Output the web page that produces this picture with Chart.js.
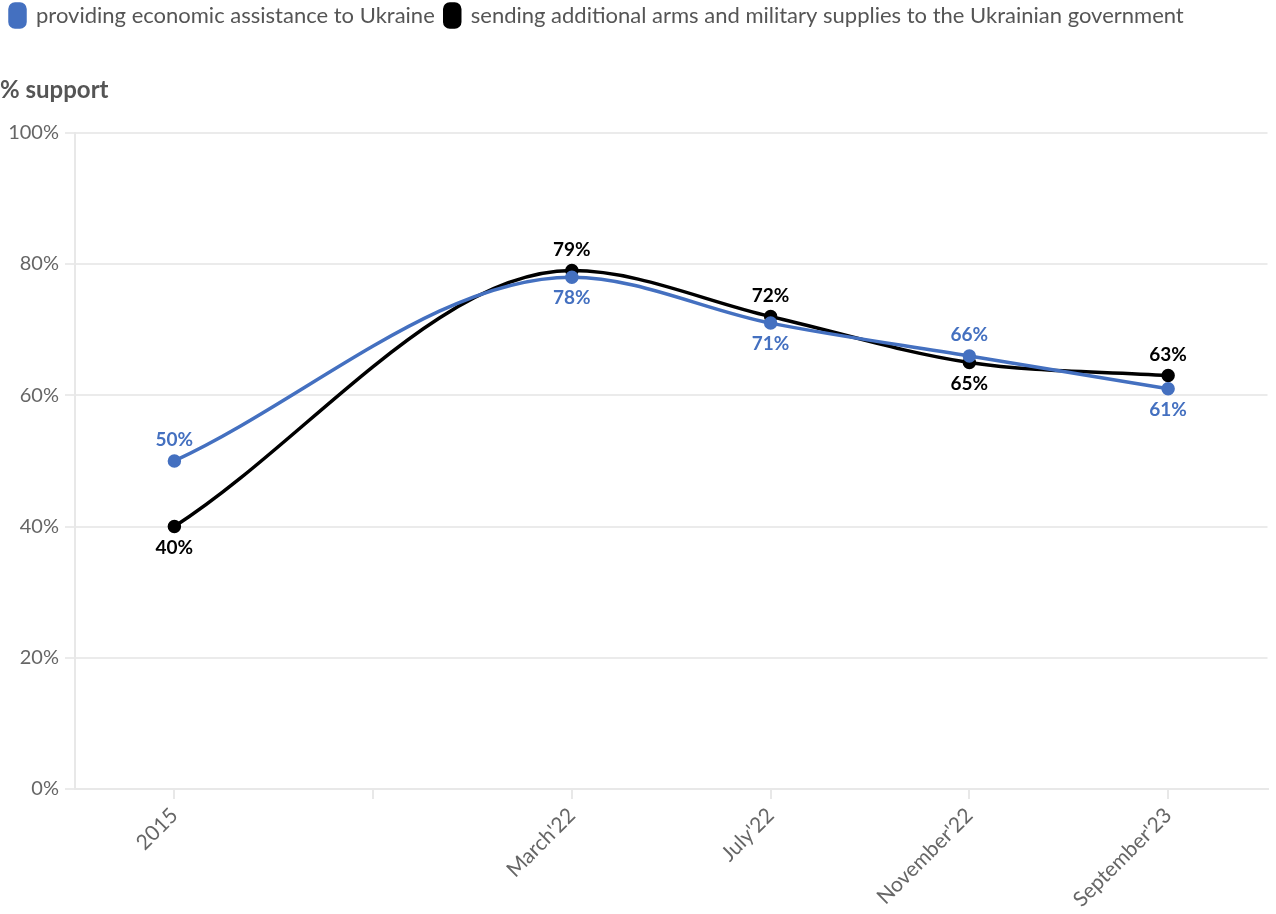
<!DOCTYPE html>
<html>
<head>
<meta charset="utf-8">
<script src="https://cdn.jsdelivr.net/npm/chart.js@4"></script>
<style>
  html, body { margin: 0; padding: 0; background: #fff; }
  #wrap { width: 1276px; height: 914px; position: relative; }
</style>
</head>
<body>
<div id="wrap"><canvas id="supportChart"></canvas></div>
<script>
const labels = ['2015', '', "March'22", "July'22", "November'22", "September'23"];
const economicAid = [50, null, 78, 71, 66, 61];
const armsSupply = [40, null, 79, 72, 65, 63];
// label side for each point: 1 = above, -1 = below
const economicLabelSide = [1, 0, -1, -1, 1, -1];
const armsLabelSide = [-1, 0, 1, 1, -1, 1];
const yTicks = [0, 20, 40, 60, 80, 100];

const FONT = "'Lato', 'Open Sans', sans-serif";
const BLUE = '#4470c0';

Chart.defaults.font.family = FONT;
Chart.defaults.color = '#666';

// draws the % labels next to each point
const pointLabels = {
    id: 'pointLabels',
    afterDatasetsDraw(chart) {
        const ctx = chart.ctx;
        ctx.save();
        ctx.font = "bold 19px " + FONT;
        ctx.textAlign = 'center';
        ctx.textBaseline = 'middle';
        chart.data.datasets.forEach((ds, di) => {
            const meta = chart.getDatasetMeta(di);
            ctx.fillStyle = ds.borderColor;
            meta.data.forEach((pt, i) => {
                const v = ds.data[i];
                if (v === null) return;
                const side = ds.labelSide[i];
                ctx.fillText(v + '%', pt.x, pt.y - side * 21);
            });
        });
        ctx.restore();
    }
};

new Chart(document.getElementById('supportChart'), {
    type: 'line',
    data: {
        labels: labels,
        datasets: [{
            label: 'providing economic assistance to Ukraine',
            data: economicAid,
            labelSide: economicLabelSide,
            borderColor: BLUE,
            backgroundColor: BLUE,
            borderWidth: 3.5,
            pointRadius: 5,
            pointHoverRadius: 5,
            cubicInterpolationMode: 'monotone',
            spanGaps: true
        }, {
            label: 'sending additional arms and military supplies to the Ukrainian government',
            data: armsSupply,
            labelSide: armsLabelSide,
            borderColor: '#000000',
            backgroundColor: '#000000',
            borderWidth: 3.5,
            pointRadius: 5,
            pointHoverRadius: 5,
            cubicInterpolationMode: 'monotone',
            spanGaps: true
        }]
    },
    options: {
        responsive: true,
        maintainAspectRatio: false,
        animation: false,
        layout: { padding: { left: 0, right: 2, top: -6, bottom: 0 } },
        plugins: {
            legend: {
                position: 'top',
                align: 'start',
                labels: {
                    boxWidth: 15,
                    boxHeight: 23,
                    useBorderRadius: true,
                    borderRadius: 5,
                    padding: 10,
                    color: '#555',
                    font: { size: 22 }
                }
            },
            title: {
                display: true,
                text: '% support',
                align: 'start',
                weight: 500,
                color: '#555',
                font: { size: 24, weight: 'bold' },
                padding: { top: 39, bottom: 28 }
            },
            tooltip: { enabled: false }
        },
        scales: {
            x: {
                offset: true,
                border: { color: '#e8e8e8', width: 2 },
                grid: { drawOnChartArea: false, drawTicks: true, tickLength: 10, color: '#e8e8e8', lineWidth: 2 },
                ticks: { maxRotation: 45, minRotation: 45, autoSkip: false, color: '#666', font: { size: 21 }, padding: 4 },
                afterFit: s => { s.height = 125; }
            },
            y: {
                min: 0,
                max: 100,
                afterBuildTicks: s => { s.ticks = yTicks.map(v => ({ value: v })); },
                border: { color: '#e8e8e8', width: 2 },
                grid: { color: '#ebebeb', lineWidth: 2, tickLength: 10 },
                ticks: { color: '#666', font: { size: 20 }, padding: 6, callback: v => v + '%' },
                afterFit: s => { s.width = 75; }
            }
        }
    },
    plugins: [pointLabels]
});
</script>
</body>
</html>
